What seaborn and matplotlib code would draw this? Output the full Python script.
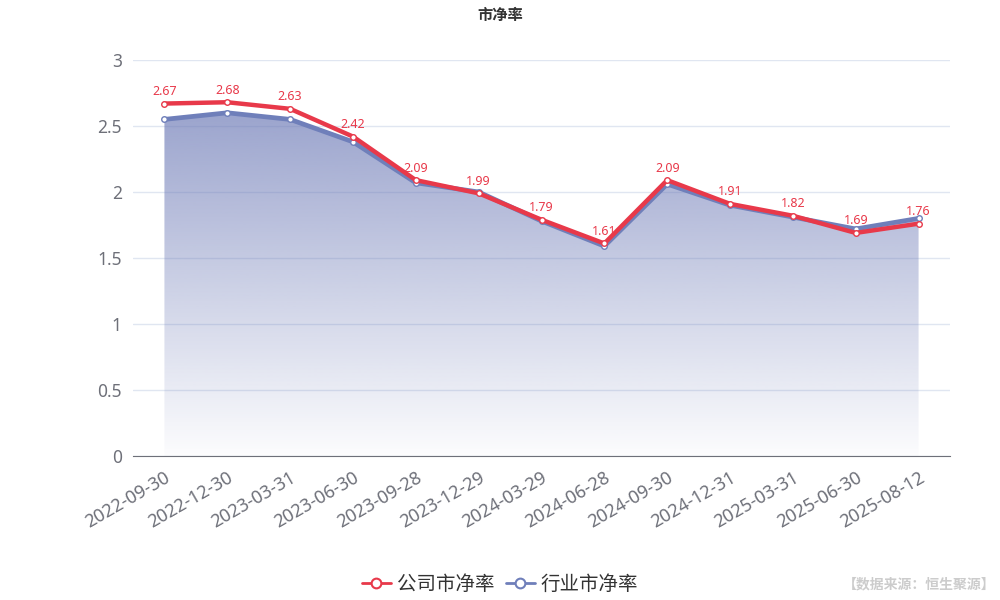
import numpy as np
import pandas as pd
import matplotlib
matplotlib.use("Agg")
import matplotlib.pyplot as plt
import seaborn as sns
from matplotlib.lines import Line2D

# data
dates = ["2022-09-30", "2022-12-30", "2023-03-31", "2023-06-30", "2023-09-28",
         "2023-12-29", "2024-03-29", "2024-06-28", "2024-09-30", "2024-12-31",
         "2025-03-31", "2025-06-30", "2025-08-12"]
company_pb = [2.67, 2.68, 2.63, 2.42, 2.09, 1.99, 1.79, 1.61, 2.09, 1.91, 1.82, 1.69, 1.76]
industry_pb = [2.55, 2.60, 2.55, 2.38, 2.07, 2.00, 1.78, 1.59, 2.06, 1.90, 1.81, 1.72, 1.80]
y_ticks = [0, 0.5, 1, 1.5, 2, 2.5, 3]

RED = "#e8394a"
BLUE = "#6f7fba"

sns.set_style("white")
plt.rcParams["font.family"] = ["Noto Sans", "Noto Sans CJK SC", "DejaVu Sans"]

df = pd.DataFrame({"pos": np.arange(len(dates)), "date": dates,
                   "company": company_pb, "industry": industry_pb})

fig = plt.figure(figsize=(10, 6), dpi=100)
ax = fig.add_axes([0.133, 0.24, 0.817, 0.66])

# gradient area under industry line
fill = ax.fill_between(df["pos"], df["industry"], 0, color="none", lw=0)
grad = np.zeros((256, 1, 4))
top = np.array([112, 125, 184]) / 255
grad[:, 0, :3] = top
grad[:, 0, 3] = np.linspace(0.70, 0.02, 256)
img = ax.imshow(grad, aspect="auto", extent=[0, len(dates) - 1, 0, max(industry_pb)],
                origin="upper", zorder=1)
img.set_clip_path(fill.get_paths()[0], transform=ax.transData)

sns.lineplot(data=df, x="pos", y="industry", ax=ax, color=BLUE, lw=3.4,
             marker="o", markersize=4, markerfacecolor="white",
             markeredgecolor=BLUE, markeredgewidth=1, zorder=3)
sns.lineplot(data=df, x="pos", y="company", ax=ax, color=RED, lw=3.2,
             marker="o", markersize=4, markerfacecolor="white",
             markeredgecolor=RED, markeredgewidth=1, zorder=4)

for x, v in zip(df["pos"], company_pb):
    ax.annotate(f"{v:.2f}", (x, v), xytext=(0, 4), textcoords="offset points",
                ha="center", va="bottom", fontsize=9, color=RED, zorder=5)

ax.set_xlim(-0.5, len(dates) - 0.5)
ax.set_ylim(0, 3)
ax.set_yticks(y_ticks)
ax.set_yticklabels([f"{t:g}" for t in y_ticks], fontsize=12.5, color="#6e7079")
ax.set_xticks(df["pos"])
ax.set_xticklabels(dates, rotation=30, ha="right", rotation_mode="anchor",
                   fontsize=13, color="#6e7079")
ax.set_xticks(np.arange(-0.5, len(dates)), minor=True)
ax.tick_params(axis="x", which="major", length=0, pad=9)
ax.tick_params(axis="x", which="minor", length=5, color="#6e7079", width=1)
ax.tick_params(axis="y", length=0, pad=8)
ax.set_xlabel("")
ax.set_ylabel("")
ax.yaxis.grid(True, color="#e0e6f1", lw=1)
ax.set_axisbelow(True)
for s in ["left", "right", "top"]:
    ax.spines[s].set_visible(False)
ax.spines["bottom"].set_color("#6e7079")

fig.text(0.5, 0.975, "市净率", ha="center", va="center", fontsize=11,
         fontweight="bold", color="#333333", family=["Noto Sans CJK SC"])

handles = [Line2D([], [], color=c, lw=2, marker="o", markersize=7,
                  markerfacecolor="white", markeredgecolor=c, markeredgewidth=1.5)
           for c in (RED, BLUE)]
fig.legend(handles, ["公司市净率", "行业市净率"], loc="center", bbox_to_anchor=(0.5, 0.025),
           ncol=2, frameon=False, fontsize=14, handlelength=1.5, handletextpad=0.3,
           columnspacing=0.6, labelcolor="#333333")

fig.text(0.995, 0.015, "【数据来源：恒生聚源】", ha="right", va="bottom", fontsize=10,
         fontweight="bold", color="#cccccc", family=["Noto Sans CJK SC"])

fig.savefig("out.png", dpi=100)
